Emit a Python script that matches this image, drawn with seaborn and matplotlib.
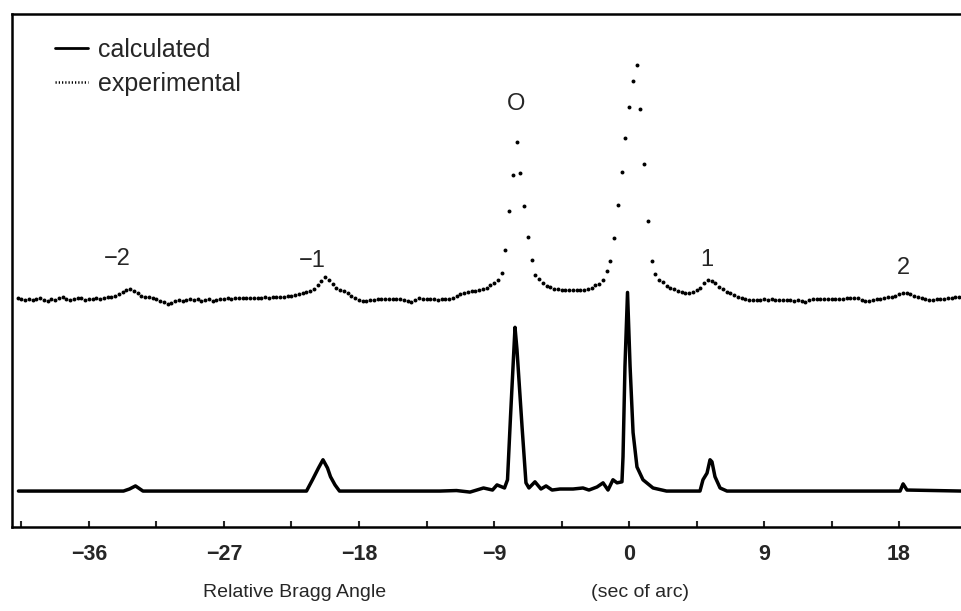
import numpy as np
import pandas as pd
import matplotlib
matplotlib.use('Agg')
import matplotlib.pyplot as plt
from matplotlib.lines import Line2D
import seaborn as sns

# calculated rocking curve (vertices of the solid line), angle in sec of arc
calc_x = [-40.7, -33.7, -33.3, -32.9, -32.4, -21.5, -21.1, -20.7, -20.4, -20.1,
          -19.9, -19.6, -19.3, -12.6, -11.5, -10.6, -9.7, -9.1, -8.8, -8.3,
          -8.1, -7.9, -7.6, -7.47, -7.13, -6.87, -6.67, -6.27, -5.87, -5.53,
          -5.13, -4.6, -3.73, -3.07, -2.67, -2.13, -1.73, -1.4, -1.07, -0.8,
          -0.47, -0.4, -0.27, -0.1, 0.07, 0.27, 0.53, 0.93, 1.6, 2.5,
          4.73, 4.93, 5.2, 5.4, 5.53, 5.73, 6.07, 6.53, 18.07, 18.27,
          18.53, 22.2]
calc_y = [7.0, 7.0, 7.4, 8.0, 7.0, 7.0, 9.2, 11.5, 13.1, 11.5,
          9.8, 8.2, 7.0, 7.0, 7.1, 6.8, 7.6, 7.2, 8.2, 7.6,
          9.2, 21.5, 38.9, 34.6, 19.5, 8.6, 7.6, 8.8, 7.4, 8.0,
          7.2, 7.4, 7.4, 7.6, 7.2, 7.8, 8.6, 7.2, 9.2, 8.6,
          8.8, 13.7, 31.3, 45.7, 31.3, 18.4, 11.7, 9.2, 7.6, 7.0,
          7.0, 9.2, 10.5, 13.1, 12.7, 9.8, 7.6, 7.0, 7.0, 8.4,
          7.2, 7.0]

# experimental points, sampled every 0.25 sec of arc from -40.75
exp_start = -40.75
exp_step = 0.25
exp_y = [44.7, 44.4, 44.3, 44.5, 44.2, 44.5, 44.6, 44.3, 44.1, 44.5,
         44.3, 44.6, 44.8, 44.4, 44.2, 44.5, 44.7, 44.6, 44.3, 44.4,
         44.5, 44.7, 44.5, 44.7, 44.8, 44.9, 45.1, 45.3, 45.7, 46.1,
         46.3, 46.0, 45.5, 45.1, 44.9, 44.8, 44.7, 44.4, 44.1, 43.8,
         43.5, 43.6, 44.1, 44.3, 44.1, 44.3, 44.5, 44.2, 44.5, 44.1,
         44.3, 44.5, 44.1, 44.3, 44.5, 44.4, 44.6, 44.5, 44.7, 44.6,
         44.6, 44.7, 44.7, 44.7, 44.6, 44.7, 44.8, 44.7, 44.8, 44.9,
         44.9, 44.9, 45.0, 45.1, 45.2, 45.3, 45.5, 45.7, 45.9, 46.3,
         47.1, 47.9, 48.7, 48.2, 47.4, 46.5, 46.2, 45.9, 45.5, 45.1,
         44.7, 44.3, 44.0, 44.1, 44.3, 44.2, 44.4, 44.5, 44.4, 44.5,
         44.5, 44.4, 44.5, 44.3, 44.1, 43.9, 44.3, 44.6, 44.5, 44.4,
         44.5, 44.4, 44.3, 44.5, 44.4, 44.5, 44.7, 45.1, 45.4, 45.5,
         45.7, 45.9, 46.0, 46.2, 46.3, 46.6, 47.1, 47.6, 48.2, 49.4,
         54.0, 61.5, 68.5, 75.0, 69.0, 62.5, 56.5, 52.0, 49.1, 48.4,
         47.5, 47.0, 46.7, 46.4, 46.3, 46.2, 46.1, 46.1, 46.1, 46.1,
         46.1, 46.2, 46.4, 46.6, 47.1, 47.4, 48.2, 49.8, 51.8, 56.4,
         62.7, 69.1, 75.8, 81.8, 86.9, 90.0, 81.4, 70.7, 59.6, 51.8,
         49.2, 48.2, 47.7, 47.0, 46.6, 46.3, 46.0, 45.7, 45.6, 45.6,
         45.7, 46.1, 46.6, 47.5, 48.2, 47.9, 47.5, 46.8, 46.3, 45.8,
         45.5, 45.2, 44.9, 44.6, 44.4, 44.3, 44.3, 44.2, 44.3, 44.4,
         44.3, 44.4, 44.3, 44.3, 44.2, 44.3, 44.2, 44.1, 44.2, 44.0,
         43.9, 44.2, 44.4, 44.5, 44.4, 44.5, 44.4, 44.5, 44.4, 44.5,
         44.5, 44.6, 44.6, 44.7, 44.6, 44.3, 44.1, 44.0, 44.2, 44.4,
         44.5, 44.6, 44.8, 44.9, 45.1, 45.4, 45.6, 45.5, 45.3, 45.1,
         44.8, 44.6, 44.4, 44.2, 44.3, 44.4, 44.5, 44.5, 44.6, 44.7,
         44.8, 44.9]
exp_x = exp_start + exp_step * np.arange(len(exp_y))

# order labels and where they sit
peak_labels = ['\u22122', '\u22121', 'O', '1', '2']
peak_lx = [-34.1, -21.1, -7.5, 5.2, 18.3]
peak_ly = [52.3, 51.8, 82.4, 52.1, 50.4]

tick_major = [-36, -27, -18, -9, 0, 9, 18]
tick_labels = ['\u221236', '\u221227', '\u221218', '\u22129', '0', '9', '18']
tick_minor = [-40.5, -31.5, -22.5, -13.5, -4.5, 4.5, 13.5]

calc = pd.DataFrame({'angle': calc_x, 'intensity': calc_y})
expt = pd.DataFrame({'angle': exp_x, 'intensity': exp_y})

sns.set_style('ticks')
plt.rcParams['font.family'] = ['Liberation Sans', 'DejaVu Sans']

fig = plt.figure(figsize=(9.61, 6.11), dpi=100)
ax = fig.add_axes([0.0125, 0.1375, 0.9875, 0.84])

sns.lineplot(data=calc, x='angle', y='intensity', sort=False, color='black',
             linewidth=2.5, ax=ax)
sns.scatterplot(data=expt, x='angle', y='intensity', color='black', s=8,
                linewidth=0, ax=ax)

ax.set_xlim(-41.13, 22.13)
ax.set_ylim(0, 100)
ax.set_yticks([])
ax.set_xlabel('')
ax.set_ylabel('')

for s in ['left', 'top', 'bottom']:
    ax.spines[s].set_linewidth(1.8)
    ax.spines[s].set_color('black')
ax.spines['right'].set_visible(False)

ax.set_xticks(tick_major)
ax.set_xticklabels(tick_labels, fontweight='bold', fontsize=15.5)
ax.set_xticks(tick_minor, minor=True)
ax.tick_params(axis='x', which='both', direction='in', length=4, width=1.5,
               pad=12)

for lab, lx, ly in zip(peak_labels, peak_lx, peak_ly):
    ax.text(lx, ly, lab, ha='center', va='center', fontsize=17)

handles = [Line2D([], [], color='black', linewidth=2),
           Line2D([], [], color='black', linewidth=1.8, linestyle=(0, (0.5, 0.8)))]
ax.legend(handles, ['calculated', 'experimental'], loc='upper left',
          frameon=False, fontsize=18, handlelength=1.35, handletextpad=0.4,
          labelspacing=0.4, borderaxespad=0, borderpad=0,
          bbox_to_anchor=(0.045, 0.953))

fig.text(0.307, 0.03, 'Relative Bragg Angle', ha='center', va='center',
         fontsize=14)
fig.text(0.666, 0.03, '(sec of arc)', ha='center', va='center',
         fontsize=14)

fig.savefig('out.png', dpi=100)
